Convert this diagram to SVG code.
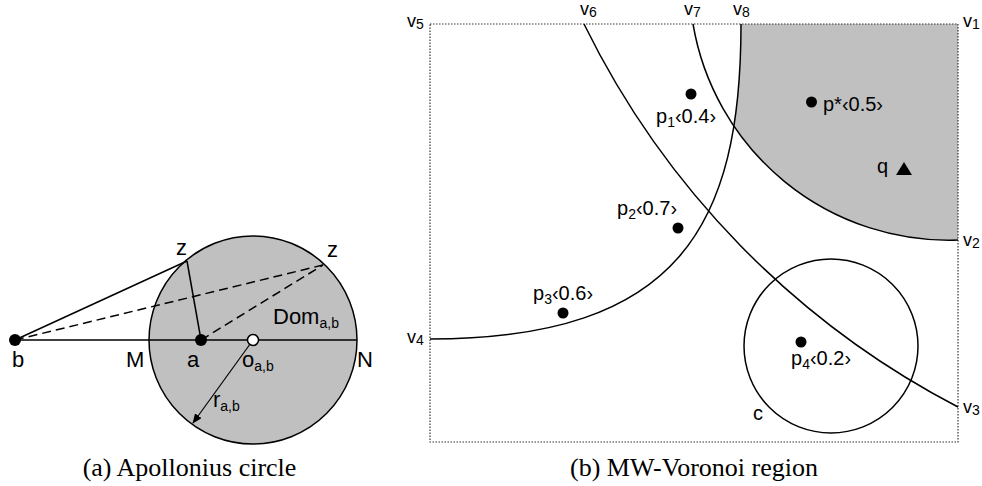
<svg xmlns="http://www.w3.org/2000/svg" width="982" height="486" viewBox="0 0 982 486">
<style>
.ln{fill:none;stroke:#000;stroke-width:1.5}
.dash{fill:none;stroke:#000;stroke-width:1.5;stroke-dasharray:9,5}
.dot{fill:#000}
.lbl{font-family:"Liberation Sans",Arial,sans-serif;font-size:22px;fill:#000}
.plbl{font-family:"Liberation Sans",Arial,sans-serif;font-size:20px;fill:#000}
.vlbl{font-family:"Liberation Sans",Arial,sans-serif;font-size:18px;fill:#000}
.cap{font-family:"Liberation Serif","Times New Roman",serif;font-size:26px;fill:#000;text-anchor:middle}
.sub{font-size:14px}
</style>
<defs>
<marker id="arr" markerWidth="10" markerHeight="8" refX="9" refY="4" orient="auto" markerUnits="userSpaceOnUse">
<path d="M0,0 L10,4 L0,8 Z" fill="#000"/>
</marker>
<clipPath id="shadeClip"><circle cx="948.3" cy="-19.8" r="259.5"/></clipPath>
</defs>

<!-- (a) Apollonius circle -->
<g id="apollonius-circle">
<circle cx="253" cy="340" r="104" fill="#c0c0c0" stroke="#000" stroke-width="1.5"/>
</g>
<g id="connectors-a">
<line class="ln" x1="15" y1="340" x2="357" y2="340"/>
<line class="ln" x1="15" y1="340" x2="187" y2="261"/>
<line class="ln" x1="187" y1="261" x2="201" y2="340"/>
<line class="dash" x1="15" y1="340" x2="323" y2="265"/>
<line class="dash" x1="201" y1="340" x2="323" y2="265"/>
<line x1="253" y1="340" x2="193" y2="423" stroke="#000" stroke-width="1.2" marker-end="url(#arr)"/>
</g>
<g id="node-b"><circle class="dot" cx="15" cy="340" r="6"/><text class="lbl" x="12" y="367">b</text></g>
<g id="node-a"><circle class="dot" cx="201" cy="340" r="6"/><text class="lbl" x="187" y="367">a</text></g>
<g id="node-o"><circle cx="253" cy="340" r="5.5" fill="#fff" stroke="#000" stroke-width="1.5"/><text class="lbl" x="242" y="367">o<tspan class="sub" dy="4">a,b</tspan></text></g>
<g id="node-M"><text class="lbl" x="126" y="367">M</text></g>
<g id="node-N"><text class="lbl" x="357" y="367">N</text></g>
<g id="node-z1"><text class="lbl" x="176" y="255">z</text></g>
<g id="node-z2"><text class="lbl" x="327" y="257">z</text></g>
<g id="label-dom"><text class="lbl" x="273" y="324">Dom<tspan class="sub" dy="4">a,b</tspan></text></g>
<g id="label-r"><text class="lbl" x="213" y="407">r<tspan class="sub" dy="4">a,b</tspan></text></g>
<text class="cap" x="189.5" y="476">(a) Apollonius circle</text>

<!-- (b) MW-Voronoi region -->
<g id="region-shade">
<path d="M741,24 C741,224 680,339 430,339 L430,442 L958,442 L958,24 Z" fill="#c0c0c0" clip-path="url(#shadeClip)"/>
</g>
<g id="bounding-box">
<rect x="430" y="24" width="528" height="418" fill="none" stroke="#333" stroke-width="1.2" stroke-dasharray="1.5,1.5"/>
</g>
<g id="connectors-b">
<path class="ln" d="M584,24 A857,857 0 0,0 958,407"/>
<path class="ln" d="M693,24 A259.5,259.5 0 0,0 958,240"/>
<path class="ln" d="M430,339 C680,339 741,224 741,24"/>
<circle class="ln" cx="831" cy="346" r="87"/>
</g>
<g id="node-p1"><circle class="dot" cx="691" cy="94" r="5.5"/><text class="plbl" x="656" y="123">p<tspan class="sub" dy="4">1</tspan><tspan dy="-4">‹0.4›</tspan></text></g>
<g id="node-pstar"><circle class="dot" cx="811.5" cy="102" r="5.5"/><text class="plbl" x="823" y="111">p*‹0.5›</text></g>
<g id="node-q"><polygon points="896,175 912,175 904,162" fill="#000"/><text class="plbl" x="877" y="173">q</text></g>
<g id="node-p2"><circle class="dot" cx="678" cy="228" r="5.5"/><text class="plbl" x="617" y="215">p<tspan class="sub" dy="4">2</tspan><tspan dy="-4">‹0.7›</tspan></text></g>
<g id="node-p3"><circle class="dot" cx="563" cy="313" r="5.5"/><text class="plbl" x="533" y="300">p<tspan class="sub" dy="4">3</tspan><tspan dy="-4">‹0.6›</tspan></text></g>
<g id="node-p4"><circle class="dot" cx="801" cy="342" r="5.5"/><text class="plbl" x="791" y="365">p<tspan class="sub" dy="4">4</tspan><tspan dy="-4">‹0.2›</tspan></text></g>
<g id="label-c"><text class="plbl" x="753" y="420">c</text></g>
<g id="vertex-labels">
<text class="vlbl" x="407" y="27">v<tspan class="sub" dy="2">5</tspan></text>
<text class="vlbl" x="580" y="15">v<tspan class="sub" dy="2">6</tspan></text>
<text class="vlbl" x="684" y="15">v<tspan class="sub" dy="2">7</tspan></text>
<text class="vlbl" x="733" y="15">v<tspan class="sub" dy="2">8</tspan></text>
<text class="vlbl" x="963" y="27">v<tspan class="sub" dy="2">1</tspan></text>
<text class="vlbl" x="963" y="246">v<tspan class="sub" dy="2">2</tspan></text>
<text class="vlbl" x="963" y="413">v<tspan class="sub" dy="2">3</tspan></text>
<text class="vlbl" x="407" y="343">v<tspan class="sub" dy="2">4</tspan></text>
</g>
<text class="cap" x="694" y="476">(b) MW-Voronoi region</text>
</svg>
